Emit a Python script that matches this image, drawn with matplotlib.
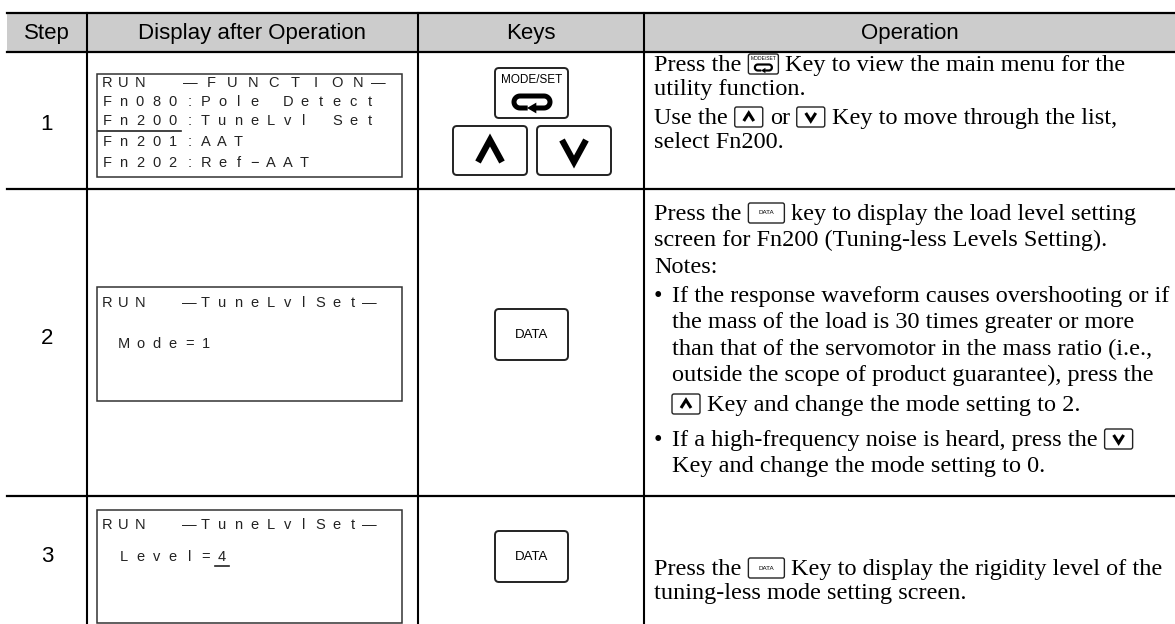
import numpy as np
import matplotlib
matplotlib.use('Agg')
import matplotlib.pyplot as plt
from matplotlib.patches import FancyBboxPatch, Rectangle, Polygon

# ---- table content ----
header_labels = ['Step', 'Display after Operation', 'Keys', 'Operation']
col_edges = [7, 87, 418, 644, 1175]
row_edges = [13, 52, 189, 496, 624]
step_labels = ['1', '2', '3']
step_y = [125, 338, 557]

lcd_boxes = [(74, 177), (287, 401), (510, 623)]
# each display line: list of (text, first cell, pitch factor)
lcd_text = [
    [[('RUN', 0, 1.0), ('—FUNCTION—', 4.9, 1.28)],
     [('Fn080:Pole Detect', 0, 1.0)],
     [('Fn200:TuneLvl Set', 0, 1.0)],
     [('Fn201:AAT', 0, 1.0)],
     [('Fn202:Ref−AAT', 0, 1.0)]],
    [[('RUN', 0, 1.0), ('—TuneLvlSet—', 5, 1.0)],
     [('Mode=1', 1, 1.0)]],
    [[('RUN', 0, 1.0), ('—TuneLvlSet—', 5, 1.0)],
     [('Level=4', 1, 1.0)]],
]
lcd_y = [[83, 102, 121, 142, 163], [303, 344], [525, 557]]

op_lines = [
    # x, baseline, runs, bullet
    (654, 71, ['Press the', '[MODESET]', 'Key to view the main menu for the'], False),
    (654, 95, ['utility function.'], False),
    (654, 124, ['Use the', '[UP]', 'or', '[DOWN]', 'Key to move through the list,'], False),
    (654, 148, ['select Fn200.'], False),
    (654, 220, ['Press the', '[DATA]', 'key to display the load level setting'], False),
    (654, 246, ['screen for Fn200 (Tuning-less Levels Setting).'], False),
    (654, 273, ['Notes:'], False),
    (672, 302, ['If the response waveform causes overshooting or if'], True),
    (672, 328, ['the mass of the load is 30 times greater or more'], False),
    (672, 355, ['than that of the servomotor in the mass ratio (i.e.,'], False),
    (672, 381, ['outside the scope of product guarantee), press the'], False),
    (672, 411, ['[UP]', 'Key and change the mode setting to 2.'], False),
    (672, 446, ['If a high-frequency noise is heard, press the', '[DOWN]'], True),
    (672, 472, ['Key and change the mode setting to 0.'], False),
    (654, 575, ['Press the', '[DATA]', 'Key to display the rigidity level of the'], False),
    (654, 599, ['tuning-less mode setting screen.'], False),
]

SERIF = ['Liberation Serif', 'DejaVu Serif']
SANS = ['Liberation Sans', 'DejaVu Sans']

W, H = 1175, 624
fig = plt.figure(figsize=(W / 100, H / 100), dpi=100)
ax = fig.add_axes([0, 0, 1, 1])
ax.set_xlim(0, W)
ax.set_ylim(H, 0)
ax.axis('off')
renderer = fig.canvas.get_renderer()


def key_box(x, y, w, h, lw=1.4, r=4):
    ax.add_patch(FancyBboxPatch((x, y), w, h, boxstyle=f"round,pad=0,rounding_size={r}",
                                fc='white', ec='#222222', lw=lw, zorder=3))


def chevron(cx, cy, w, h, up, lw):
    s = 1 if up else -1
    ax.plot([cx - w / 2, cx, cx + w / 2], [cy + s * h / 2, cy - s * h / 2, cy + s * h / 2],
            color='black', lw=lw, solid_joinstyle='miter', solid_capstyle='butt', zorder=4)


def return_symbol(cx, cy, w, h, lw):
    r = h / 2
    bot = cy + r
    lx, rx = cx - w / 2 + r, cx + w / 2 - r
    t = np.linspace(-np.pi / 2, -3 * np.pi / 2, 20)
    left_arc_x, left_arc_y = lx + r * np.cos(t), cy + r * np.sin(t)
    t2 = np.linspace(-np.pi / 2, np.pi / 2, 20)
    right_arc_x, right_arc_y = rx + r * np.cos(t2), cy + r * np.sin(t2)
    xs = np.concatenate([[cx - 0.12 * w], left_arc_x[::-1], right_arc_x, [cx + 0.1 * w]])
    ys = np.concatenate([[bot], left_arc_y[::-1], right_arc_y, [bot]])
    ax.plot(xs, ys, color='black', lw=lw, solid_capstyle='butt', zorder=4)
    ah = h * 0.45
    ax.add_patch(Polygon([[cx - 0.14 * w, bot], [cx + 0.12 * w, bot - ah], [cx + 0.12 * w, bot + ah]],
                         closed=True, fc='black', ec='none', zorder=4))


icon_w = {'MODESET': 30, 'UP': 28, 'DOWN': 28, 'DATA': 36}


def inline_icon(kind, x, base):
    w, h = icon_w[kind], 20
    top = base - 17
    key_box(x, top, w, h, lw=1.0, r=2)
    cx, cy = x + w / 2, top + h / 2
    if kind == 'UP':
        chevron(cx, cy, 10, 8, True, 2.2)
    elif kind == 'DOWN':
        chevron(cx, cy, 10, 8, False, 2.2)
    elif kind == 'DATA':
        ax.text(cx, cy, 'DATA', fontsize=4.5, family=SANS, ha='center', va='center', zorder=5)
    else:
        ax.text(cx, top + 5, 'MODE/SET', fontsize=3.6, family=SANS, ha='center', va='center', zorder=5)
        return_symbol(cx, cy + 3.5, 17, 6, 1.6)
    return w


# ---- header band and grid ----
ax.add_patch(Rectangle((col_edges[0], row_edges[0]), W - col_edges[0], row_edges[1] - row_edges[0],
                       fc='#cccccc', ec='none', zorder=0))
for y in row_edges[:-1]:
    ax.plot([col_edges[0], W], [y, y], color='black', lw=1.6, zorder=2)
for x in col_edges[1:-1]:
    ax.plot([x, x], [row_edges[0], H], color='black', lw=1.5, zorder=2)

for i, lab in enumerate(header_labels):
    cx = (col_edges[i] + col_edges[i + 1]) / 2
    ax.text(cx, (row_edges[0] + row_edges[1]) / 2 + 1, lab, fontsize=16, family=SANS,
            ha='center', va='center')

for lab, y in zip(step_labels, step_y):
    ax.text((col_edges[0] + col_edges[1]) / 2, y, lab, fontsize=16, family=SANS,
            ha='center', va='center')

# ---- LCD panels ----
lcd_x0, lcd_x1 = 97, 402
cell_x0, cell_w = 99, 16.4
for (top, bot), lines, ys in zip(lcd_boxes, lcd_text, lcd_y):
    ax.add_patch(Rectangle((lcd_x0, top), lcd_x1 - lcd_x0, bot - top, fc='white', ec='#333333',
                           lw=1.1, zorder=1))
    for segs, y in zip(lines, ys):
        for txt, start, pitch in segs:
            for i, ch in enumerate(txt):
                if ch != ' ':
                    ax.text(cell_x0 + (start + (i + 0.5) * pitch) * cell_w, y, ch, fontsize=10.5,
                            family=SANS, color='#222222', ha='center', va='center', zorder=3)
# cursor marks
ax.plot([lcd_x0 + 1, cell_x0 + 5 * cell_w], [131, 131], color='#222222', lw=1.2, zorder=3)
ax.plot([cell_x0 + 7 * cell_w + 1, cell_x0 + 8 * cell_w - 1], [566, 566], color='#222222', lw=1.2, zorder=3)

# ---- key pictures ----
key_box(495, 68, 73, 50)
ax.text(531.5, 80, 'MODE/SET', fontsize=8.5, family=SANS, ha='center', va='center', zorder=5)
return_symbol(532, 102, 36, 12, 3.6)
key_box(453, 126, 74, 49)
chevron(490, 151, 24, 22, True, 4.5)
key_box(537, 126, 74, 49)
chevron(574, 151, 24, 22, False, 4.5)
for top in (309, 531):
    key_box(495, top, 73, 51)
    ax.text(531.5, top + 26, 'DATA', fontsize=9.5, family=SANS, ha='center', va='center', zorder=5)

# ---- operation text ----
FS = 17.5
gap = 7
for x, base, runs, bullet in op_lines:
    if bullet:
        ax.text(x - 18, base, '•', fontsize=FS, family=SERIF, ha='left', va='baseline')
    cur = x
    for k, run in enumerate(runs):
        if k > 0:
            cur += gap
        if run.startswith('['):
            cur += inline_icon(run.strip('[]'), cur, base)
        else:
            t = ax.text(cur, base, run, fontsize=FS, family=SERIF, ha='left', va='baseline')
            cur += t.get_window_extent(renderer=renderer).width

fig.savefig('out.png', dpi=100)
